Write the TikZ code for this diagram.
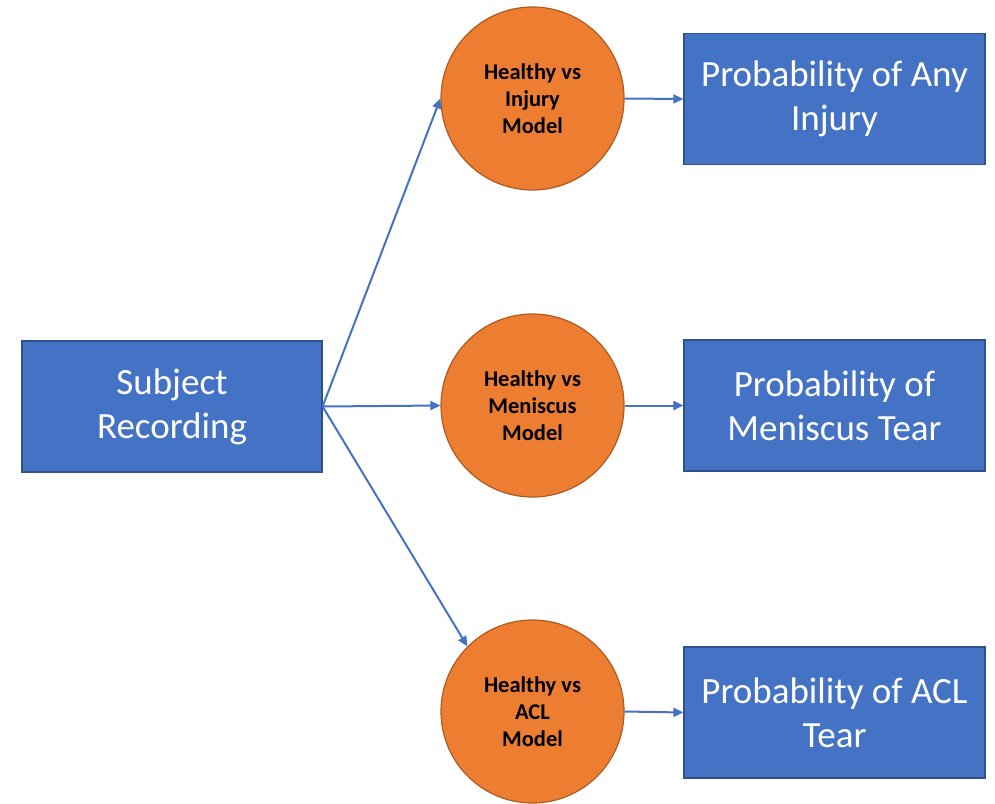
\documentclass[tikz,border=0pt]{standalone}
\usepackage{fontspec}
\setmainfont{Carlito}
\usetikzlibrary{arrows.meta}
\definecolor{boxblue}{HTML}{4472C4}
\definecolor{boxedge}{HTML}{2F528F}
\definecolor{circorange}{HTML}{ED7D31}
\definecolor{circedge}{HTML}{AE5A21}
\tikzset{
  bluebox/.style={draw=boxedge, line width=1.2pt, fill=boxblue, text=white, minimum width=301pt, minimum height=131pt, inner sep=0pt, align=center, font=\fontsize{37}{44}\selectfont},
  modelcirc/.style={circle, draw=circedge, line width=1.2pt, fill=circorange, text=black, minimum size=183pt, inner sep=0pt, align=center, font=\bfseries\fontsize{22.5}{27}\selectfont},
  conn/.style={draw=boxblue, line width=2pt, -{Triangle[length=10pt,width=9pt]}}
}
\begin{document}
\begin{tikzpicture}[x=1pt,y=-1pt]
\useasboundingbox (0,0) rectangle (995,803);
\node[bluebox, minimum width=300pt] (subj) at (172,406.5) {Subject\\Recording};
\node[modelcirc] (c1) at (532.5,98.5) {Healthy vs\\Injury\\Model};
\node[modelcirc] (c2) at (532.5,405.5) {Healthy vs\\Meniscus\\Model};
\node[modelcirc] (c3) at (532.5,711.5) {Healthy vs\\ACL\\Model};
\node[bluebox] (p1) at (834.5,99) {Probability of Any\\Injury};
\node[bluebox] (p2) at (834.5,405.5) {Probability of\\Meniscus Tear};
\node[bluebox] (p3) at (834.5,712.5) {Probability of ACL\\Tear};
\draw[conn] (subj.east) -- (c1.west);
\draw[conn] (subj.east) -- (c2.west);
\draw[conn] (subj.east) -- (c3.north west);
\draw[conn] (c1.east) -- (p1.west);
\draw[conn] (c2.east) -- (p2.west);
\draw[conn] (c3.east) -- (p3.west);
\end{tikzpicture}
\end{document}
